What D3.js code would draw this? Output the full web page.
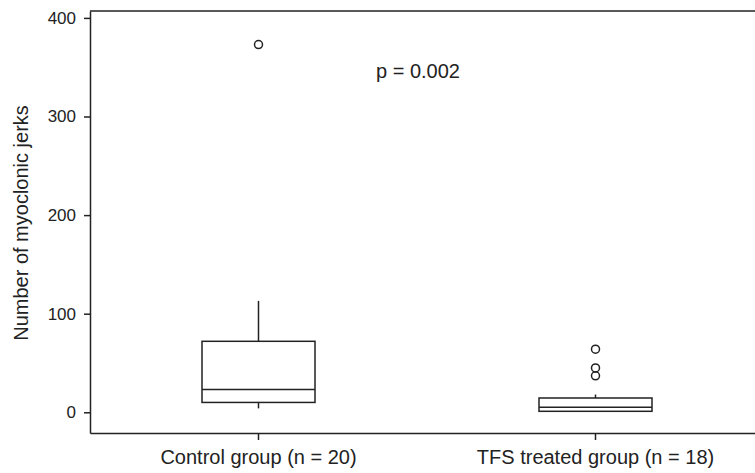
<!DOCTYPE html>
<html>
<head>
<meta charset="utf-8">
<script src="https://cdn.jsdelivr.net/npm/d3@7"></script>
<style>
  body { margin: 0; background: #fff; }
  svg { display: block; font-family: "Liberation Sans", Arial, sans-serif; }
  .axis path, .axis line { stroke: #222; stroke-width: 1.5; }
  .axis text { fill: #222; }
</style>
</head>
<body>
<svg id="chart" width="755" height="473"></svg>
<script>
// box plot values
const categories = ["Control group (n = 20)", "TFS treated group (n = 18)"];
const whiskerLow = [4, 1];
const q1 = [10, 1];
const median = [23, 5];
const q3 = [72, 14.5];
const whiskerHigh = [113, 18];
const outliers = [[373], [37, 45, 64]];
const yTicks = [0, 100, 200, 300, 400];
const pLabel = "p = 0.002";

const svg = d3.select("#chart");
const plotLeft = 90, plotTop = 11, plotBottom = 433, plotRight = 764;

const x = d3.scaleBand().domain(categories).range([plotLeft, plotRight]);
const y = d3.scaleLinear().domain([-21, 407]).range([plotBottom, plotTop]);

// frame top line
svg.append("line")
  .attr("x1", plotLeft).attr("x2", 755)
  .attr("y1", plotTop).attr("y2", plotTop)
  .attr("stroke", "#222").attr("stroke-width", 1.5);

svg.append("g")
  .attr("class", "axis")
  .attr("transform", `translate(${plotLeft},0)`)
  .call(d3.axisLeft(y).tickValues(yTicks).tickSize(6).tickSizeOuter(0).tickPadding(8))
  .selectAll("text").style("font-size", "17px");

svg.append("g")
  .attr("class", "axis")
  .attr("transform", `translate(0,${plotBottom})`)
  .call(d3.axisBottom(x).tickSize(7).tickSizeOuter(0).tickPadding(10))
  .selectAll("text").style("font-size", "20px");

svg.append("text")
  .attr("transform", "translate(28,223) rotate(-90)")
  .attr("text-anchor", "middle")
  .style("font-size", "20px")
  .attr("fill", "#222")
  .text("Number of myoclonic jerks");

svg.append("text")
  .attr("x", 376).attr("y", 78)
  .style("font-size", "20px")
  .attr("fill", "#222")
  .text(pLabel);

const boxW = 113;
const boxes = svg.append("g")
  .attr("stroke", "#222").attr("stroke-width", 1.5).attr("fill", "none");

categories.forEach((c, i) => {
  const cx = x(c) + x.bandwidth() / 2;
  const g = boxes.append("g");
  // whiskers
  g.append("line").attr("x1", cx).attr("x2", cx)
    .attr("y1", y(q3[i])).attr("y2", y(whiskerHigh[i]));
  g.append("line").attr("x1", cx).attr("x2", cx)
    .attr("y1", y(q1[i])).attr("y2", y(whiskerLow[i]));
  // box
  g.append("rect")
    .attr("x", cx - boxW / 2).attr("width", boxW)
    .attr("y", y(q3[i])).attr("height", y(q1[i]) - y(q3[i]));
  g.append("line")
    .attr("x1", cx - boxW / 2).attr("x2", cx + boxW / 2)
    .attr("y1", y(median[i])).attr("y2", y(median[i]));
  // outliers
  g.selectAll("circle").data(outliers[i]).join("circle")
    .attr("cx", cx).attr("cy", d => y(d)).attr("r", 4);
});
</script>
</body>
</html>
